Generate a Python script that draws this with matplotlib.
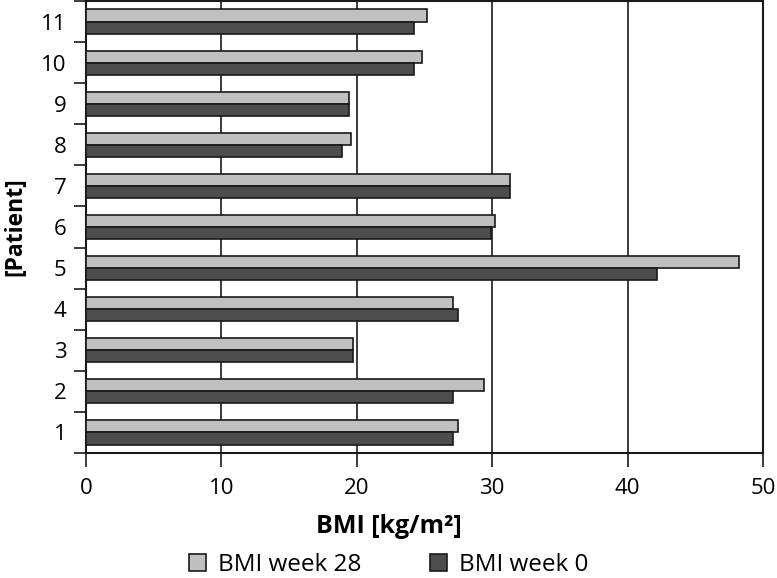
import numpy as np
import matplotlib.pyplot as plt

plt.rcParams['font.family'] = ['Open Sans', 'DejaVu Sans']

# Dane
patients = [1, 2, 3, 4, 5, 6, 7, 8, 9, 10, 11]
bmi_week28 = [27.5, 29.4, 19.75, 27.1, 48.2, 30.2, 31.3, 19.55, 19.4, 24.8, 25.2]
bmi_week0 = [27.1, 27.1, 19.75, 27.5, 42.2, 29.9, 31.3, 18.9, 19.4, 24.2, 24.2]

fig = plt.figure(figsize=(7.77, 5.78), dpi=100)
ax = fig.add_axes([86 / 777, 1 - 453 / 578, (763 - 86) / 777, (453 - 1) / 578])

y = np.array(patients)
h = 0.295
ax.barh(y + h / 2, bmi_week28, height=h, color='#c0c0c0', edgecolor='#1a1a1a',
        linewidth=1.2, label='BMI week 28', zorder=3)
ax.barh(y - h / 2, bmi_week0, height=h, color='#4d4d4d', edgecolor='#1a1a1a',
        linewidth=1.2, label='BMI week 0', zorder=3)

ax.set_xlim(0, 50)
ax.set_ylim(0.5, 11.5)
ax.set_xticks(range(0, 51, 10))
ax.xaxis.grid(True, color='#1a1a1a', linewidth=1.2, zorder=0)

# etykiety na środku, kreski na granicach kategorii
ax.set_yticks(y)
ax.set_yticklabels([str(p) for p in patients])
ax.set_yticks(np.arange(0.5, 12, 1), minor=True)
ax.tick_params(axis='y', which='major', length=0, pad=14, labelsize=16)
ax.tick_params(axis='y', which='minor', length=9, width=1.2, color='#1a1a1a')
ax.tick_params(axis='x', which='major', length=10, width=1.2, color='#1a1a1a',
               pad=8, labelsize=16)

for s in ax.spines.values():
    s.set_linewidth(1.5)
    s.set_color('#1a1a1a')

ax.set_xlabel('BMI [kg/m²]', fontsize=18, fontweight='bold')
ax.xaxis.set_label_coords(0.447, -0.135)
ax.set_ylabel('[Patient]', fontsize=16.5, fontweight='bold', labelpad=10)

fig.legend(loc='center', bbox_to_anchor=(0.5, 0.022), ncol=2, frameon=False,
           fontsize=17.5, handlelength=0.7, handleheight=0.7, columnspacing=2.8,
           handletextpad=0.5)

fig.savefig('out.png', dpi=100)
